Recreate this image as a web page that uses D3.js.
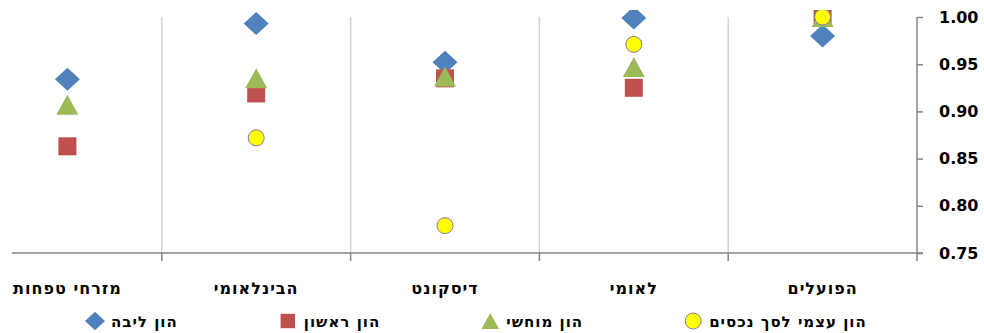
<!DOCTYPE html>
<html lang="he">
<head>
<meta charset="utf-8">
<script src="https://cdn.jsdelivr.net/npm/d3@7"></script>
<style>
  html, body { margin: 0; padding: 0; background: #fff; }
  svg { display: block; }
</style>
</head>
<body>
<svg id="chart" width="984" height="333"></svg>
<script>
// Categories, left to right as drawn
const categories = ["מזרחי טפחות", "הבינלאומי", "דיסקונט", "לאומי", "הפועלים"];

// Series values (ratio, 0.75–1.00 scale)
const coreCapital     = [0.934, 0.993, 0.952, 0.999, 0.980];  // הון ליבה
const tier1Capital    = [0.863, 0.919, 0.935, 0.925, 1.000];  // הון ראשון
const tangibleCapital = [0.907, 0.935, 0.937, 0.947, 1.000];  // הון מוחשי
const equityToAssets  = [null,  0.872, 0.779, 0.971, 1.000];  // הון עצמי לסך נכסים

const seriesNames = ["הון ליבה", "הון ראשון", "הון מוחשי", "הון עצמי לסך נכסים"];
const yTicks = [0.75, 0.80, 0.85, 0.90, 0.95, 1.00];

const svg = d3.select("#chart");
const plot = { left: -27, right: 917, top: 10, bottom: 253 };

const x = d3.scaleBand().domain(categories).range([plot.left, plot.right]);
const y = d3.scaleLinear().domain([0.75, 1.00]).range([plot.bottom, 17]);

// Marker shapes
const shapes = {
  diamond: "M0,-11.5L12.5,0L0,11.5L-12.5,0Z",
  square: "M-9,-9H9V9H-9Z",
  triangle: "M0,-10L11,10H-11Z",
  circle: d3.symbol().type(d3.symbolCircle).size(Math.PI * 64)()
};
const series = [
  { name: seriesNames[0], values: coreCapital,     shape: "diamond",  fill: "#4F81BD", stroke: "none" },
  { name: seriesNames[1], values: tier1Capital,    shape: "square",   fill: "#C0504D", stroke: "none" },
  { name: seriesNames[2], values: tangibleCapital, shape: "triangle", fill: "#9BBB59", stroke: "none" },
  { name: seriesNames[3], values: equityToAssets,  shape: "circle",   fill: "#FFFF00", stroke: "#8C76A8" }
];

svg.append("defs").append("clipPath").attr("id", "plotClip")
  .append("rect")
  .attr("x", plot.left).attr("y", plot.top)
  .attr("width", plot.right - plot.left).attr("height", plot.bottom - plot.top + 20);

// Vertical gridlines between categories
const boundaries = categories.slice(1).map(c => x(c));
svg.append("g").selectAll("line").data(boundaries).join("line")
  .attr("x1", d => d).attr("x2", d => d)
  .attr("y1", y(1.00)).attr("y2", plot.bottom)
  .attr("stroke", "#D4D4D4").attr("stroke-width", 1.5);

// X axis: baseline, tick marks at category boundaries, labels
const xAxis = svg.append("g");
xAxis.append("line")
  .attr("x1", 12).attr("x2", plot.right + 6)
  .attr("y1", plot.bottom).attr("y2", plot.bottom)
  .attr("stroke", "#868686").attr("stroke-width", 1.5);
xAxis.selectAll("line.tick").data(boundaries.concat([plot.right])).join("line")
  .attr("class", "tick")
  .attr("x1", d => d).attr("x2", d => d)
  .attr("y1", plot.bottom).attr("y2", plot.bottom + 8)
  .attr("stroke", "#868686").attr("stroke-width", 1.5);
xAxis.selectAll("text").data(categories).join("text")
  .attr("x", d => x(d) + x.bandwidth() / 2)
  .attr("y", 294)
  .attr("text-anchor", "middle")
  .attr("font-family", "DejaVu Sans, sans-serif")
  .attr("font-weight", "bold")
  .attr("font-size", 16)
  .attr("letter-spacing", 1)
  .attr("fill", "#000")
  .text(d => d);

// Y axis on the right
const yAxis = svg.append("g")
  .attr("transform", `translate(${plot.right},0)`)
  .call(d3.axisRight(y).tickValues(yTicks).tickFormat(d3.format(".2f")).tickSize(6).tickPadding(16));
yAxis.select(".domain").attr("stroke", "#868686").attr("stroke-width", 1.5)
  .attr("d", `M0,${y(1.00)}V${plot.bottom}`);
yAxis.selectAll(".tick line").attr("stroke", "#868686").attr("stroke-width", 1.5);
yAxis.selectAll(".tick text")
  .attr("font-family", "DejaVu Sans, sans-serif")
  .attr("font-weight", "bold")
  .attr("font-size", 16)
  .attr("fill", "#000");

// Markers
const marks = svg.append("g").attr("clip-path", "url(#plotClip)");
series.forEach(s => {
  marks.append("g").selectAll("path")
    .data(s.values.map((v, i) => ({ v, c: categories[i] })).filter(d => d.v != null))
    .join("path")
    .attr("transform", d => `translate(${x(d.c) + x.bandwidth() / 2},${y(d.v)})`)
    .attr("d", shapes[s.shape])
    .attr("fill", s.fill)
    .attr("stroke", s.stroke)
    .attr("stroke-width", s.stroke === "none" ? 0 : 1);
});

// Legend
const legend = svg.append("g");
let lx = 95;
series.forEach(s => {
  const item = legend.append("g");
  item.append("path")
    .attr("transform", `translate(${lx},321) scale(${s.shape === "circle" ? 1 : 0.8})`)
    .attr("d", shapes[s.shape])
    .attr("fill", s.fill)
    .attr("stroke", s.stroke)
    .attr("stroke-width", s.stroke === "none" ? 0 : 1);
  const t = item.append("text")
    .attr("x", lx + 16).attr("y", 327)
    .attr("font-family", "DejaVu Sans, sans-serif")
    .attr("font-weight", "bold")
    .attr("font-size", 15)
    .attr("letter-spacing", 1)
    .attr("fill", "#000")
    .text(s.name);
  const w = t.node().getComputedTextLength();
  lx = lx + 16 + w + 110;
});
</script>
</body>
</html>
